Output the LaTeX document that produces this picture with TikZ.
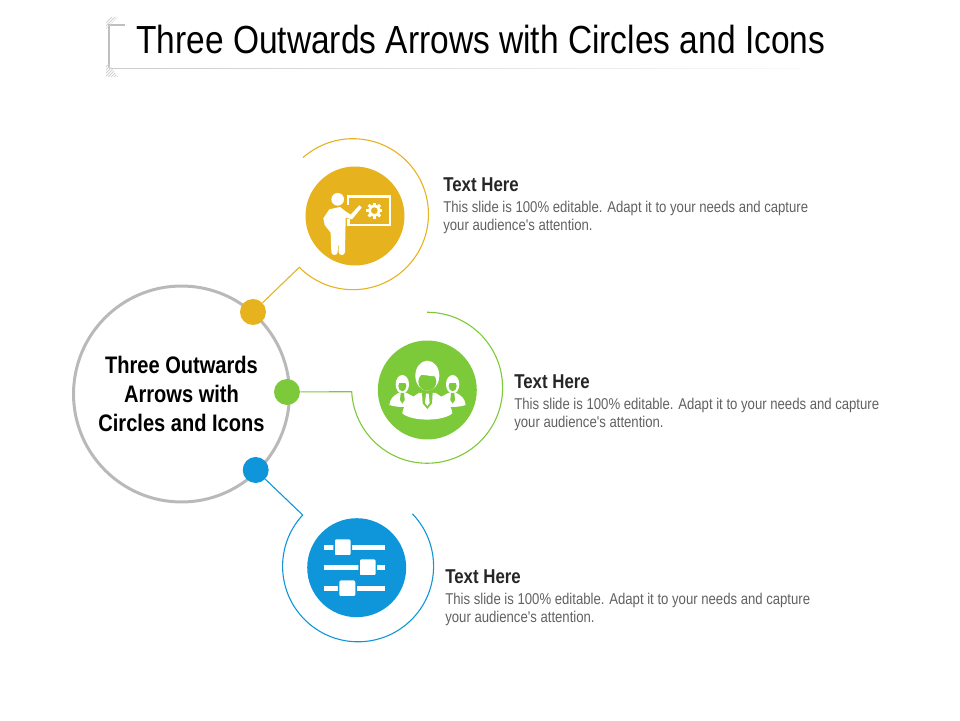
\documentclass[tikz,border=0pt]{standalone}
\usepackage{fontspec}
\usepackage{xcolor}
\setmainfont{Liberation Sans}
\newfontfamily\narrowfont[FakeStretch=0.84]{Liberation Sans}
\newfontfamily\titlefont[FakeStretch=0.855]{Liberation Sans}
\usetikzlibrary{calc}
\definecolor{col_gold}{HTML}{E6B31E}
\definecolor{col_green}{HTML}{7CC939}
\definecolor{col_blue}{HTML}{0F96DA}
\colorlet{col_ring}{gray!55}
\colorlet{col_frame}{gray!50}
\tikzset{
    hub/.style={circle,draw=col_ring,line width=0.06cm,minimum size=4.32cm,inner sep=0pt},
    dot/.style={circle,inner sep=0pt,minimum size=0.52cm},
    disc/.style={circle,inner sep=0pt,minimum size=1.98cm},
    ring_line/.style={line width=0.022cm,line join=miter},
    hatch_line/.style={gray!35,line width=0.02cm},
    head_text/.style={anchor=base west,inner sep=0pt,text=black!85,font=\narrowfont\bfseries\fontsize{11.4}{13}\selectfont},
    body_text/.style={anchor=base west,inner sep=0pt,align=left,text=black!62,font=\narrowfont\fontsize{8.9}{10.25}\selectfont},
    hub_text/.style={inner sep=0pt,align=center,font=\narrowfont\bfseries\fontsize{13.6}{16.5}\selectfont},
}
\begin{document}
\begin{tikzpicture}[x=0.02cm,y=0.02cm]
  \useasboundingbox (0,0) rectangle (960,720);
  % Title and its frame
  \node[anchor=base west,inner sep=0pt,font=\titlefont\fontsize{22.3}{26}\selectfont] (title) at (136,666) {Three Outwards Arrows with Circles and Icons};
  \draw[col_frame,line width=0.025cm] (125,695) -- (109,695) -- (109,652);
  \shade[left color=gray!40,right color=gray!5] (109,651.3) rectangle (800,651.9);
  \begin{scope}
    \clip (106,703) -- (118,703) -- (106,691) -- cycle;
    \foreach \i in {0,3,...,24} {
      \draw[hatch_line] (100+\i,691) -- (100+\i+14,705);
    }
  \end{scope}
  \begin{scope}
    \clip (106,660) -- (106,643) -- (118,643) -- cycle;
    \foreach \i in {0,3,...,33} {
      \draw[hatch_line] (96+\i,643) -- (96+\i+18,661);
    }
  \end{scope}
  % Hub
  \node[hub,hub_text] (hub) at (181.5,326) {Three Outwards\\Arrows with\\Circles and Icons};
  % Dots on the hub
  \node[dot,fill=col_gold] (dot_a) at (253,408) {};
  \node[dot,fill=col_green] (dot_b) at (287,328) {};
  \node[dot,fill=col_blue] (dot_c) at (255.7,250) {};
  % Discs
  \node[disc,fill=col_gold] (disc_a) at (355,504) {};
  \node[disc,fill=col_green] (disc_b) at (427.3,330) {};
  \node[disc,fill=col_blue] (disc_c) at (356.7,152.3) {};
  % Open rings with their lead lines
  \coordinate (ring_a) at (299.3,452.7);
  \coordinate (ring_b) at (351.7,328.3);
  \coordinate (ring_c) at (302.7,205);
  \draw[ring_line,col_gold] (dot_a) -- (ring_a) arc[start angle=224.7,end angle=491.4,radius=75.5];
  \draw[ring_line,col_green] (dot_b) -- (ring_b) arc[start angle=183,end angle=450,radius=75.5];
  \draw[ring_line,col_blue] (dot_c) -- (ring_c) arc[start angle=137.2,end angle=404,radius=75.5];
  % Teacher icon
  \begin{scope}[shift={(240,590)},xscale=1/3,yscale=-1/3]
    \fill[white] (293,208) circle (19);
    \fill[white] (268,238) -- (300,231) -- (318,245) -- (332,254) -- (358,226) -- (365,233) -- (336,268) -- (317,263) -- (315,366) .. controls (315,378) and (296,378) .. (296,366) -- (295,325) -- (293,366) .. controls (293,378) and (274,378) .. (274,366) -- (272,308) -- (254,285) -- (250,265) -- cycle;
    \draw[white,line width=0.05cm] (324,225) -- (324,200) -- (450,200) -- (450,285) -- (326,285) -- (326,268);
    \foreach \a in {0,45,...,315} {
      \fill[white,rotate around={\a:(403,242)}] (399,218) rectangle (407,266);
    }
    \fill[white] (403,242) circle (18);
    \fill[col_gold] (403,242) circle (10);
  \end{scope}
  % People icon
  \begin{scope}[shift={(270,415)},xscale=1/3,yscale=-1/3]
    % side figures
    \fill[white] (358,300) .. controls (360,280) and (372,272) .. (385,264) -- (410,264) -- (440,280) -- (440,304) -- (400,306) .. controls (385,306) and (370,304) .. (358,300) -- cycle;
    \fill[white] (587,300) .. controls (585,280) and (573,272) .. (560,264) -- (535,264) -- (505,280) -- (505,304) -- (545,306) .. controls (560,306) and (575,304) .. (587,300) -- cycle;
    \fill[white] (397,238) ellipse (20 and 28);
    \fill[white] (548,238) ellipse (20 and 28);
    \fill[col_green] (397,243) ellipse (12 and 16);
    \fill[col_green] (548,243) ellipse (12 and 16);
    \fill[white] (382,233) -- (412,233) -- (412,222) -- (382,222) -- cycle;
    \fill[white] (533,233) -- (563,233) -- (563,222) -- (533,222) -- cycle;
    \fill[col_green] (392,264) -- (402,264) -- (404,285) -- (397,296) -- (390,285) -- cycle;
    \fill[col_green] (543,264) -- (553,264) -- (555,285) -- (548,296) -- (541,285) -- cycle;
    % middle figure
    \fill[white] (397,325) .. controls (400,298) and (420,280) .. (447,264) -- (497,264) .. controls (524,280) and (544,298) .. (547,325) .. controls (520,350) and (424,350) .. (397,325) -- cycle;
    \fill[white] (472,212) ellipse (36 and 45);
    \fill[col_green] (472,230) ellipse (27 and 27);
    \fill[white] (443,213) .. controls (460,203) and (480,218) .. (502,213) -- (502,190) -- (443,190) -- cycle;
    \fill[col_green] (456,262) -- (488,262) -- (486,295) -- (472,312) -- (458,295) -- cycle;
    \fill[white] (468,266) -- (476,266) -- (479,294) -- (472,303) -- (465,294) -- cycle;
  \end{scope}
  % Slider icon
  \begin{scope}[shift={(235,270)},xscale=1/3,yscale=-1/3]
    \foreach \ypos/\knob in {292/323,352/398,415/337} {
      \draw[white,line width=0.1cm] (267,\ypos) -- (450,\ypos);
      \draw[col_blue,line width=0.03cm,fill=white,rounded corners=0.04cm] (\knob-26,\ypos-26) rectangle (\knob+26,\ypos+26);
    }
  \end{scope}
  % Texts
  \node[head_text] (head_a) at (443,528) {Text Here};
  \node[body_text] (body_a) at (443,489) {This slide is 100\% editable. Adapt it to your needs and capture\\your audience's attention.};
  \node[head_text] (head_b) at (514,331) {Text Here};
  \node[body_text] (body_b) at (514,292) {This slide is 100\% editable. Adapt it to your needs and capture\\your audience's attention.};
  \node[head_text] (head_c) at (445,136) {Text Here};
  \node[body_text] (body_c) at (445,97) {This slide is 100\% editable. Adapt it to your needs and capture\\your audience's attention.};
\end{tikzpicture}
\end{document}
